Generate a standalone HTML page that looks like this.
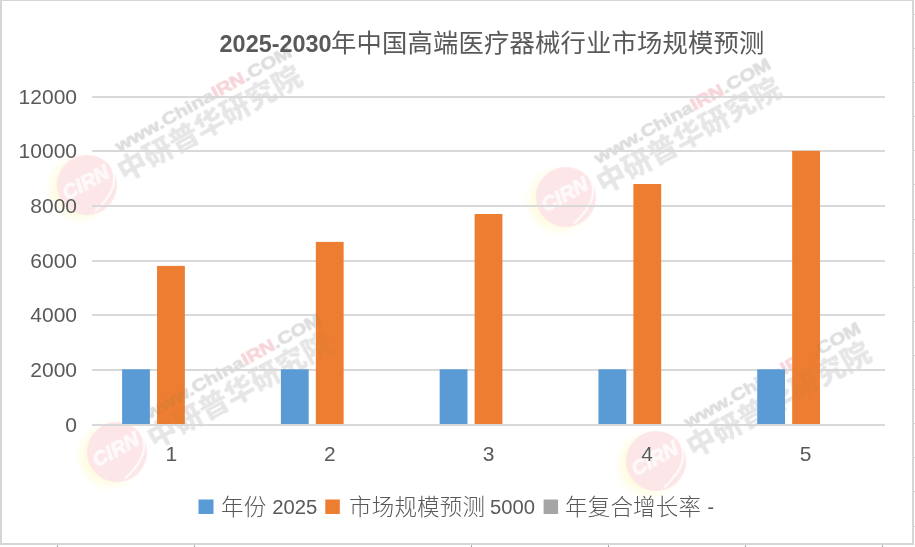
<!DOCTYPE html>
<html lang="zh-CN">
<head>
<meta charset="utf-8">
<title>2025-2030年中国高端医疗器械行业市场规模预测</title>
<style>
html,body{margin:0;padding:0;background:#fff;}
body{width:915px;height:547px;position:relative;overflow:hidden;}
svg{position:absolute;left:0;top:0;display:block;}
.lat{font-family:"Liberation Sans","Noto Sans CJK SC",sans-serif;}
.cjk{font-family:"Liberation Sans","Noto Sans CJK SC",sans-serif;}
.wmc{font-family:"Liberation Sans",sans-serif;font-weight:bold;font-style:italic;}
.wmw{font-family:"Liberation Sans",sans-serif;font-weight:bold;}
.wmz{font-family:"Liberation Sans","Noto Sans CJK SC",sans-serif;font-weight:900;}
</style>
</head>
<body>
<svg width="915" height="547" viewBox="0 0 915 547">
  <defs>
    <radialGradient id="wmglow" cx="0.5" cy="0.5" r="0.5">
      <stop offset="0.6" stop-color="#fffad0" stop-opacity="0.8"/>
      <stop offset="0.85" stop-color="#fffce0" stop-opacity="0.4"/>
      <stop offset="1" stop-color="#fffde8" stop-opacity="0"/>
    </radialGradient>
  </defs>
  <!-- chart frame -->
  <rect x="0" y="0" width="915" height="547" fill="#fff"/>
  <rect x="0" y="0" width="914" height="545" fill="#d6d6d6"/>
  <rect x="2" y="1" width="910" height="542" fill="#fff"/>
  <!-- sheet column ticks below -->
  <g fill="#a6a6a6">
    <rect x="57" y="545" width="1" height="2"/>
    <rect x="194" y="545" width="1" height="2"/>
    <rect x="471" y="545" width="1" height="2"/>
    <rect x="608" y="545" width="1" height="2"/>
    <rect x="745" y="545" width="1" height="2"/>
    <rect x="882" y="545" width="1" height="2"/>
  </g>
  <g fill="#d0d0d0">
    <rect x="914" y="14" width="1" height="1"/>
    <rect x="914" y="48" width="1" height="1"/>
    <rect x="914" y="82" width="1" height="1"/>
    <rect x="914" y="116" width="1" height="1"/>
    <rect x="914" y="150" width="1" height="1"/>
    <rect x="914" y="184" width="1" height="1"/>
    <rect x="914" y="219" width="1" height="1"/>
    <rect x="914" y="253" width="1" height="1"/>
    <rect x="914" y="287" width="1" height="1"/>
    <rect x="914" y="321" width="1" height="1"/>
    <rect x="914" y="355" width="1" height="1"/>
    <rect x="914" y="389" width="1" height="1"/>
    <rect x="914" y="423" width="1" height="1"/>
    <rect x="914" y="457" width="1" height="1"/>
    <rect x="914" y="491" width="1" height="1"/>
    <rect x="914" y="526" width="1" height="1"/>
  </g>

  <!-- gridlines -->
  <g fill="#d9d9d9">
    <rect x="92" y="96" width="793" height="2"/>
    <rect x="92" y="150" width="793" height="2"/>
    <rect x="92" y="205" width="793" height="2"/>
    <rect x="92" y="260" width="793" height="2"/>
    <rect x="92" y="314" width="793" height="2"/>
    <rect x="92" y="369" width="793" height="2"/>
  </g>

  <!-- bars: category width 158.6, bar 27.7, gap 7.5 -->
  <g fill="#5b9bd5">
    <rect x="122.10" y="369.3" width="27.8" height="54.7"/>
    <rect x="280.88" y="369.3" width="27.8" height="54.7"/>
    <rect x="439.66" y="369.3" width="27.8" height="54.7"/>
    <rect x="598.44" y="369.3" width="27.8" height="54.7"/>
    <rect x="757.22" y="369.3" width="27.8" height="54.7"/>
  </g>
  <g fill="#ed7d31">
    <rect x="157.05" y="265.9" width="27.8" height="158.1"/>
    <rect x="315.83" y="241.9" width="27.8" height="182.1"/>
    <rect x="474.61" y="214" width="27.8" height="210.0"/>
    <rect x="633.39" y="184" width="27.8" height="240.0"/>
    <rect x="792.17" y="150.9" width="27.8" height="273.1"/>
  </g>
  <!-- category axis line -->
  <rect x="92" y="424" width="793" height="2" fill="#d9d9d9"/>

  <!-- y axis labels -->
  <g class="lat" font-size="21" fill="#595959" text-anchor="end">
    <text x="77" y="104.2">12000</text>
    <text x="77" y="158.2">10000</text>
    <text x="77" y="213.2">8000</text>
    <text x="77" y="268.2">6000</text>
    <text x="77" y="322.2">4000</text>
    <text x="77" y="377.2">2000</text>
    <text x="77" y="431.9">0</text>
  </g>
  <!-- x axis labels -->
  <g class="lat" font-size="21" fill="#595959" text-anchor="middle">
    <text x="171.3" y="461">1</text>
    <text x="329.9" y="461">2</text>
    <text x="488.5" y="461">3</text>
    <text x="647.1" y="461">4</text>
    <text x="805.7" y="461">5</text>
  </g>

  <!-- watermarks -->
  <g style="mix-blend-mode:darken">
  <g transform="translate(87 185) rotate(-29)">
    <circle cx="-8" cy="0" r="36" fill="url(#wmglow)"/>
    <circle cx="0" cy="0" r="30" fill="#fce6e8"/>
    <path d="M 30 -11 Q 34 18 -6 27" fill="none" stroke="#fff" stroke-opacity="0.85" stroke-width="2.2"/>
    <text x="0" y="4" text-anchor="middle" class="wmc" font-size="21" textLength="50" lengthAdjust="spacingAndGlyphs" fill="#fff" stroke="#fff" stroke-width="0.8" fill-opacity="0.75" stroke-opacity="0.75">CIRN</text>
    <text x="44" y="-13.5" class="wmw" font-size="17" textLength="199" lengthAdjust="spacingAndGlyphs" fill="#dedede" stroke="#dedede" stroke-width="0.7">www.China<tspan fill="#f6d6da" stroke="#f6d6da">IRN</tspan>.COM</text>
    <text x="34" y="16" class="wmz" font-size="28.5" textLength="206" lengthAdjust="spacingAndGlyphs" fill="#e6e6e6">中研普华研究院</text>
  </g>
  <g transform="translate(566 197) rotate(-29)">
    <circle cx="-8" cy="0" r="36" fill="url(#wmglow)"/>
    <circle cx="0" cy="0" r="30" fill="#fce6e8"/>
    <path d="M 30 -11 Q 34 18 -6 27" fill="none" stroke="#fff" stroke-opacity="0.85" stroke-width="2.2"/>
    <text x="0" y="4" text-anchor="middle" class="wmc" font-size="21" textLength="50" lengthAdjust="spacingAndGlyphs" fill="#fff" stroke="#fff" stroke-width="0.8" fill-opacity="0.75" stroke-opacity="0.75">CIRN</text>
    <text x="44" y="-13.5" class="wmw" font-size="17" textLength="199" lengthAdjust="spacingAndGlyphs" fill="#dedede" stroke="#dedede" stroke-width="0.7">www.China<tspan fill="#f6d6da" stroke="#f6d6da">IRN</tspan>.COM</text>
    <text x="34" y="16" class="wmz" font-size="28.5" textLength="206" lengthAdjust="spacingAndGlyphs" fill="#e6e6e6">中研普华研究院</text>
  </g>
  <g transform="translate(117 452) rotate(-29)">
    <circle cx="-8" cy="0" r="36" fill="url(#wmglow)"/>
    <circle cx="0" cy="0" r="30" fill="#fce6e8"/>
    <path d="M 30 -11 Q 34 18 -6 27" fill="none" stroke="#fff" stroke-opacity="0.85" stroke-width="2.2"/>
    <text x="0" y="4" text-anchor="middle" class="wmc" font-size="21" textLength="50" lengthAdjust="spacingAndGlyphs" fill="#fff" stroke="#fff" stroke-width="0.8" fill-opacity="0.75" stroke-opacity="0.75">CIRN</text>
    <text x="44" y="-13.5" class="wmw" font-size="17" textLength="199" lengthAdjust="spacingAndGlyphs" fill="#dedede" stroke="#dedede" stroke-width="0.7">www.China<tspan fill="#f6d6da" stroke="#f6d6da">IRN</tspan>.COM</text>
    <text x="34" y="16" class="wmz" font-size="28.5" textLength="206" lengthAdjust="spacingAndGlyphs" fill="#e6e6e6">中研普华研究院</text>
  </g>
  <g transform="translate(656 461) rotate(-29)">
    <circle cx="-8" cy="0" r="36" fill="url(#wmglow)"/>
    <circle cx="0" cy="0" r="30" fill="#fce6e8"/>
    <path d="M 30 -11 Q 34 18 -6 27" fill="none" stroke="#fff" stroke-opacity="0.85" stroke-width="2.2"/>
    <text x="0" y="4" text-anchor="middle" class="wmc" font-size="21" textLength="50" lengthAdjust="spacingAndGlyphs" fill="#fff" stroke="#fff" stroke-width="0.8" fill-opacity="0.75" stroke-opacity="0.75">CIRN</text>
    <text x="44" y="-13.5" class="wmw" font-size="17" textLength="199" lengthAdjust="spacingAndGlyphs" fill="#dedede" stroke="#dedede" stroke-width="0.7">www.China<tspan fill="#f6d6da" stroke="#f6d6da">IRN</tspan>.COM</text>
    <text x="34" y="16" class="wmz" font-size="28.5" textLength="206" lengthAdjust="spacingAndGlyphs" fill="#e6e6e6">中研普华研究院</text>
  </g>
  </g>

  <!-- title -->
  <text class="lat" fill="#595959"><tspan x="219.6" y="52.2" font-size="23.2" font-weight="bold" textLength="112" lengthAdjust="spacingAndGlyphs">2025-2030</tspan><tspan x="331" y="51.6" font-size="25.3" font-weight="400" letter-spacing="0.2">年中国高端医疗器械行业市场规模预测</tspan></text>

  <!-- legend -->
  <rect x="198.5" y="499.5" width="15" height="14.5" fill="#5b9bd5"/>
  <rect x="325.3" y="499.5" width="14.5" height="14.5" fill="#ed7d31"/>
  <rect x="543.6" y="499.5" width="14.5" height="14.5" fill="#a5a5a5"/>
  <g class="lat" fill="#595959">
    <text y="515.4" font-size="22.5" font-weight="300" letter-spacing="0.2"><tspan x="221">年份</tspan><tspan x="349">市场规模预测</tspan><tspan x="565">年复合增长率</tspan></text>
    <text y="514.4" font-size="19.6"><tspan x="272.2" textLength="45" lengthAdjust="spacingAndGlyphs">2025</tspan><tspan x="490" textLength="45" lengthAdjust="spacingAndGlyphs">5000</tspan><tspan x="707.5">-</tspan></text>
  </g>

</svg>
</body>
</html>
